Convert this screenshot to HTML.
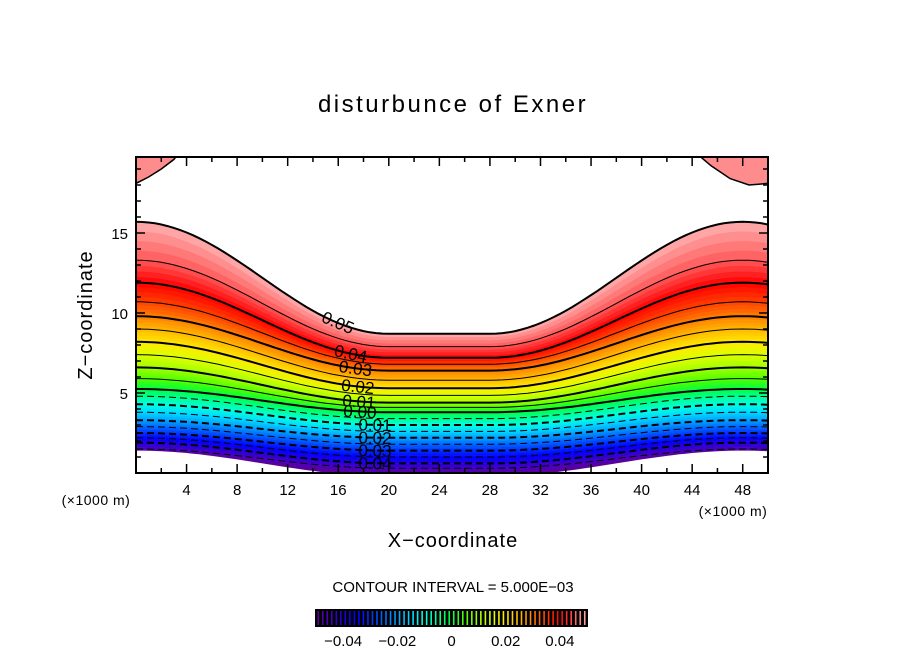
<!DOCTYPE html>
<html><head><meta charset="utf-8"><style>
body{margin:0;background:#fff;}
svg text{font-family:"Liberation Sans",sans-serif;fill:#000;}
</style></head><body>
<svg id="chart" width="904" height="654" viewBox="0 0 904 654">
<defs><clipPath id="plotclip"><rect x="136" y="157" width="632" height="316"/></clipPath></defs>
<text x="453" y="112" font-size="24" text-anchor="middle" letter-spacing="2.5">disturbunce of Exner</text>
<g id="bands" clip-path="url(#plotclip)"></g>
<g id="lines" clip-path="url(#plotclip)"></g>
<g id="labels"></g>
<rect x="136" y="157" width="632" height="316" fill="none" stroke="#000" stroke-width="2"/>
<g id="ticks"></g>
<text x="96" y="505" font-size="14" text-anchor="middle" letter-spacing="0.5">(×1000 m)</text>
<text x="733" y="516" font-size="14" text-anchor="middle" letter-spacing="0.5">(×1000 m)</text>
<text x="453" y="547" font-size="20" text-anchor="middle" letter-spacing="1">X−coordinate</text>
<text transform="translate(92,315) rotate(-90)" font-size="20" text-anchor="middle" letter-spacing="1">Z−coordinate</text>
<text x="453" y="592" font-size="15" text-anchor="middle">CONTOUR INTERVAL = 5.000E−03</text>
<g id="cbar"></g>
</svg>
<script>
// contour levels and their heights (km) at domain edge and in the flat middle
const levels = [-0.05,-0.045,-0.04,-0.035,-0.03,-0.025,-0.02,-0.015,-0.01,-0.005,0,0.005,0.01,0.015,0.02,0.025,0.03,0.035,0.04,0.045,0.05];
const edgeZ  = [1.4,1.5,1.9,2.2,2.5,2.9,3.3,3.8,4.3,4.8,5.25,5.9,6.6,7.4,8.2,9.0,9.8,10.7,11.9,13.3,15.7];
const midZ   = [-0.2,0.3,0.6,1.0,1.4,1.8,2.2,2.6,3.0,3.4,3.8,4.1,4.4,4.85,5.3,5.8,6.4,6.8,7.2,7.9,8.7];
const levelColors = ["#600090","#4800c0","#2000e0","#0000ff","#0030ff","#0068ff","#00a0ff","#00d8ff","#00ffe0","#00ff90","#00ff40","#50ff00","#a0ff00","#dcff00","#ffe800","#ffb800","#ff8000","#ff4000","#ff0000","#ff5858","#ffb0b0"];
const xTicks = [4,8,12,16,20,24,28,32,36,40,44,48];
const yTicks = [5,10,15];
const labelLevels = [0.05,0.04,0.03,0.02,0.01,0,-0.01,-0.02,-0.03,-0.04];
const labelText = ["0.05","0.04","0.03","0.02","0.01","0.00","0.01","0.02","0.03","0.04"];
const labelX = [15.8,16.9,17.3,17.5,17.6,17.7,18.9,18.9,18.9,18.9];
const blobLeft = [[0,18.1],[1,18.5],[2,19.0],[3,19.6],[3.4,20],[0,20]];
const blobRight = [[44.3,20],[45.5,19.2],[47,18.4],[48.5,18.0],[50,18.1],[50,20]];
const cbarTicks = [-0.04,-0.02,0,0.02,0.04];
const cbarText = ["−0.04","−0.02","0","0.02","0.04"];

const NS="http://www.w3.org/2000/svg";
const X0=136,X1=768,Y0=473,Y1=157, XMAX=50, ZMAX=19.75;
const sx=x=>X0+(x/XMAX)*(X1-X0);
const sy=z=>Y0-(z/ZMAX)*(Y0-Y1);
function shape(x){
  if(x<20) return 0.5*(1+Math.cos(Math.PI*x/20));
  if(x>28) return 0.5*(1+Math.cos(Math.PI*(48-x)/20));
  return 0;
}
function cz(i,x){return midZ[i]+(edgeZ[i]-midZ[i])*shape(x);}
function hex(c){return [1,3,5].map(k=>parseInt(c.substr(k,2),16));}
function mix(a,b,f){const A=hex(a),B=hex(b);return 'rgb('+A.map((v,k)=>Math.round(v+(B[k]-v)*f)).join(',')+')';}
function el(tag,parent){const e=document.createElementNS(NS,tag);parent.appendChild(e);return e;}
const xs=[];for(let x=0;x<=50.001;x+=0.5)xs.push(x);

const bands=document.getElementById('bands');
const SUB=4;
for(let i=0;i<levels.length-1;i++){
  for(let s=0;s<SUB;s++){
    const f0=s/SUB,f1=(s+1)/SUB;
    const zl=x=>cz(i,x)+(cz(i+1,x)-cz(i,x))*f0;
    const zu=x=>cz(i,x)+(cz(i+1,x)-cz(i,x))*f1+0.02;
    let d=xs.map((x,k)=>(k?'L':'M')+sx(x).toFixed(1)+','+sy(zu(x)).toFixed(1)).join('');
    d+=xs.slice().reverse().map(x=>'L'+sx(x).toFixed(1)+','+sy(zl(x)).toFixed(1)).join('')+'Z';
    const p=el('path',bands);
    
    
    p.setAttribute('d',d);p.setAttribute('fill',mix(levelColors[i],levelColors[i+1],(s+0.5)/SUB));
  }
}
[blobLeft,blobRight].forEach(b=>{
  const p=el('path',bands);
  
  
  p.setAttribute('d',b.map((q,k)=>(k?'L':'M')+sx(q[0]).toFixed(1)+','+sy(q[1]).toFixed(1)).join('')+'Z');
  p.setAttribute('fill','#ff8c8c');p.setAttribute('stroke','#000');p.setAttribute('stroke-width','1.5');
});
const lines=document.getElementById('lines');
for(let i=1;i<levels.length;i++){
  const lv=levels[i];
  const p=el('path',lines);
  
  
  p.setAttribute('d',xs.map((x,k)=>(k?'L':'M')+sx(x).toFixed(1)+','+sy(cz(i,x)).toFixed(1)).join(''));
  p.setAttribute('fill','none');p.setAttribute('stroke','#000');
  const major=Math.abs(Math.round(lv*100)-lv*100)<1e-6;
  p.setAttribute('stroke-width',major||i==levels.length-1?'2':'1');
  if(lv<-1e-9)p.setAttribute('stroke-dasharray','7,4');
}
const labels=document.getElementById('labels');
labelLevels.forEach((lv,j)=>{
  const i=levels.findIndex(l=>Math.abs(l-lv)<1e-9);
  const x=labelX[j],z=cz(i,x);
  const ang=Math.atan2(sy(cz(i,x+0.5))-sy(cz(i,x-0.5)),sx(x+0.5)-sx(x-0.5))*180/Math.PI;
  const t=el('text',labels);
  
  
  t.setAttribute('transform','translate('+sx(x).toFixed(1)+','+(sy(z)+6).toFixed(1)+') rotate('+ang.toFixed(1)+')');
  t.setAttribute('font-size','17');t.setAttribute('text-anchor','middle');
  t.textContent=labelText[j];
});
const ticks=document.getElementById('ticks');
function line(x1,y1,x2,y2,w){const l=el('line',ticks);
  
  
  l.setAttribute('x1',x1);l.setAttribute('y1',y1);l.setAttribute('x2',x2);l.setAttribute('y2',y2);l.setAttribute('stroke','#000');l.setAttribute('stroke-width',w||1.5);}
for(let x=2;x<50;x+=2){const L=(x%4==0)?9:5;line(sx(x),Y0,sx(x),Y0-L);line(sx(x),Y1,sx(x),Y1+L);}
for(let z=1;z<20;z++){const L=(z%5==0)?9:5;line(X0,sy(z),X0+L,sy(z));line(X1,sy(z),X1-L,sy(z));}
xTicks.forEach(v=>{const t=el('text',ticks);
  
  
  t.setAttribute('x',sx(v));t.setAttribute('y',495);t.setAttribute('font-size','15');t.setAttribute('text-anchor','middle');t.textContent=v;});
yTicks.forEach(v=>{const t=el('text',ticks);
  
  
  t.setAttribute('x',128);t.setAttribute('y',sy(v)+6);t.setAttribute('font-size','15');t.setAttribute('text-anchor','end');t.textContent=v;});
// colorbar
const cb=document.getElementById('cbar');
const CB0=316,CB1=587,cbx=v=>CB0+(v+0.05)/0.1*(CB1-CB0);
const r=el('rect',cb);


r.setAttribute('x',CB0-1);r.setAttribute('y',609);r.setAttribute('width',CB1-CB0+2);r.setAttribute('height',18);r.setAttribute('fill','#000');
for(let i=0;i<levels.length-1;i++){
  for(let k=0;k<3;k++){
    const f=(k+0.5)/3, v=levels[i]+f*0.005;
    const l=el('line',cb);
    
    
    l.setAttribute('x1',cbx(v));l.setAttribute('x2',cbx(v));l.setAttribute('y1',611);l.setAttribute('y2',625);
    l.setAttribute('stroke',mix(levelColors[i],levelColors[i+1],f));l.setAttribute('stroke-width','1.6');
  }
}
cbarTicks.forEach((v,j)=>{const t=el('text',cb);
  
  
  t.setAttribute('x',cbx(v));t.setAttribute('y',646);t.setAttribute('font-size','15');t.setAttribute('text-anchor','middle');t.textContent=cbarText[j];});
</script>
</body></html>
